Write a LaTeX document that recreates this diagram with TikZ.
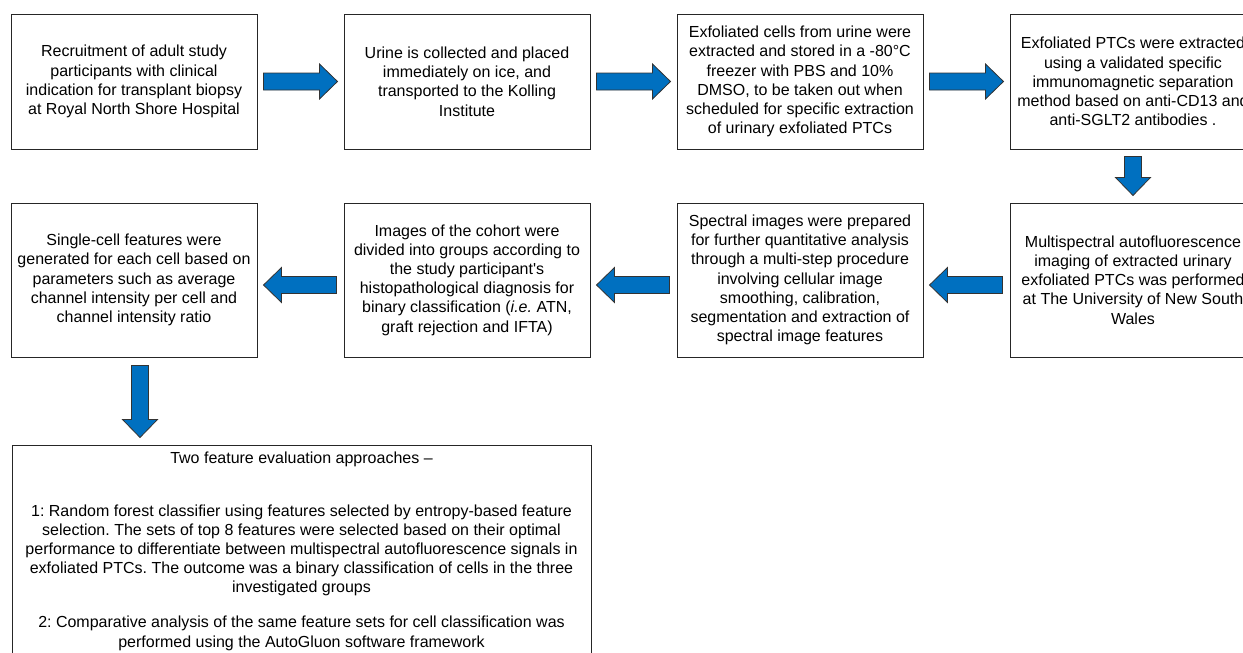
\documentclass[tikz,border=0pt]{standalone}
\usepackage{fontspec}
\setmainfont{Liberation Sans}[Ligatures=TeXOff]
\usetikzlibrary{positioning,calc}
\definecolor{arrowblue}{RGB}{0,112,192}
\frenchspacing
\begin{document}
\begin{tikzpicture}[x=1pt, y=-1pt,
        box/.style={draw=black!85, line width=1pt, align=center, inner sep=2pt, font=\fontsize{16}{19.2}\selectfont},
        rowa/.style={box, minimum width=246pt, minimum height=135pt},
        rowb/.style={box, minimum width=246pt, minimum height=154pt},
        flow/.style={draw=black!80, line width=0.8pt, fill=arrowblue,
            to path={(\tikztostart) coordinate (fs) (\tikztotarget) coordinate (ft)
                ($(fs)!8.5pt!90:(ft)$) -- ($(ft)!18pt!(fs)!8.5pt!-90:(fs)$) -- ($(ft)!18pt!(fs)!17.5pt!-90:(fs)$)
                -- (ft) -- ($(ft)!18pt!(fs)!17.5pt!90:(fs)$) -- ($(ft)!18pt!(fs)!8.5pt!90:(fs)$)
                -- ($(fs)!8.5pt!-90:(ft)$) -- cycle}}]
        \useasboundingbox (0,0) rectangle (1243,653);

        \node[rowa] (b1) at (134,81.5) {Recruitment of adult study\\participants with clinical\\indication for transplant biopsy\\at Royal North Shore Hospital};
        \node[rowa, right=86pt of b1] (b2) {Urine is collected and placed\\immediately on ice, and\\transported to the Kolling\\Institute};
        \node[rowa, right=86pt of b2] (b3) {Exfoliated cells from urine were\\extracted and stored in a -80°C\\freezer with PBS and 10\%\\DMSO, to be taken out when\\scheduled for specific extraction\\of urinary exfoliated PTCs};
        \node[rowa, right=86pt of b3] (b4) {Exfoliated PTCs were extracted\\using a validated specific\\immunomagnetic separation\\method based on anti-CD13 and\\anti-SGLT2 antibodies .};

        \node[rowb, below=53pt of b4] (b5) {Multispectral autofluorescence\\imaging of extracted urinary\\exfoliated PTCs was performed\\at The University of New South\\Wales};
        \node[rowb, left=86pt of b5] (b6) {Spectral images were prepared\\for further quantitative analysis\\through a multi-step procedure\\involving cellular image\\smoothing, calibration,\\segmentation and extraction of\\spectral image features};
        \node[rowb, left=86pt of b6] (b7) {Images of the cohort were\\divided into groups according to\\the study participant's\\histopathological diagnosis for\\binary classification (\textit{i.e.} ATN,\\graft rejection and IFTA)};
        \node[rowb, left=86pt of b7] (b8) {Single-cell features were\\generated for each cell based on\\parameters such as average\\channel intensity per cell and\\channel intensity ratio};

        \node[box, minimum width=579pt, minimum height=212pt, below=87pt of b8.south west, anchor=north west, xshift=1pt] (b9)
            {Two feature evaluation approaches –\\[33.8pt]1: Random forest classifier using features selected by entropy-based feature\\selection. The sets of top 8 features were selected based on their optimal\\performance to differentiate between multispectral autofluorescence signals in\\exfoliated PTCs. The outcome was a binary classification of cells in the three\\investigated groups\\[15.8pt]2: Comparative analysis of the same feature sets for cell classification was\\performed using the AutoGluon software framework};

        \draw[flow] ($(b1.east)+(6,0)$) to ($(b2.west)+(-6,0)$);
        \draw[flow] ($(b2.east)+(6,0)$) to ($(b3.west)+(-6,0)$);
        \draw[flow] ($(b3.east)+(6,0)$) to ($(b4.west)+(-6,0)$);

        \draw[flow] ($(b4.south)+(0,7)$) to ($(b5.north)+(0,-7)$);

        \draw[flow] ($(b5.west)+(-7,5)$) to ($(b6.east)+(6,5)$);
        \draw[flow] ($(b6.west)+(-7,5)$) to ($(b7.east)+(6,5)$);
        \draw[flow] ($(b7.west)+(-7,5)$) to ($(b8.east)+(6,5)$);

        \draw[flow] ($(b8.south)+(6,8)$) to ($(b8.south |- b9.north)+(6,-7)$);
    \end{tikzpicture}
\end{document}
